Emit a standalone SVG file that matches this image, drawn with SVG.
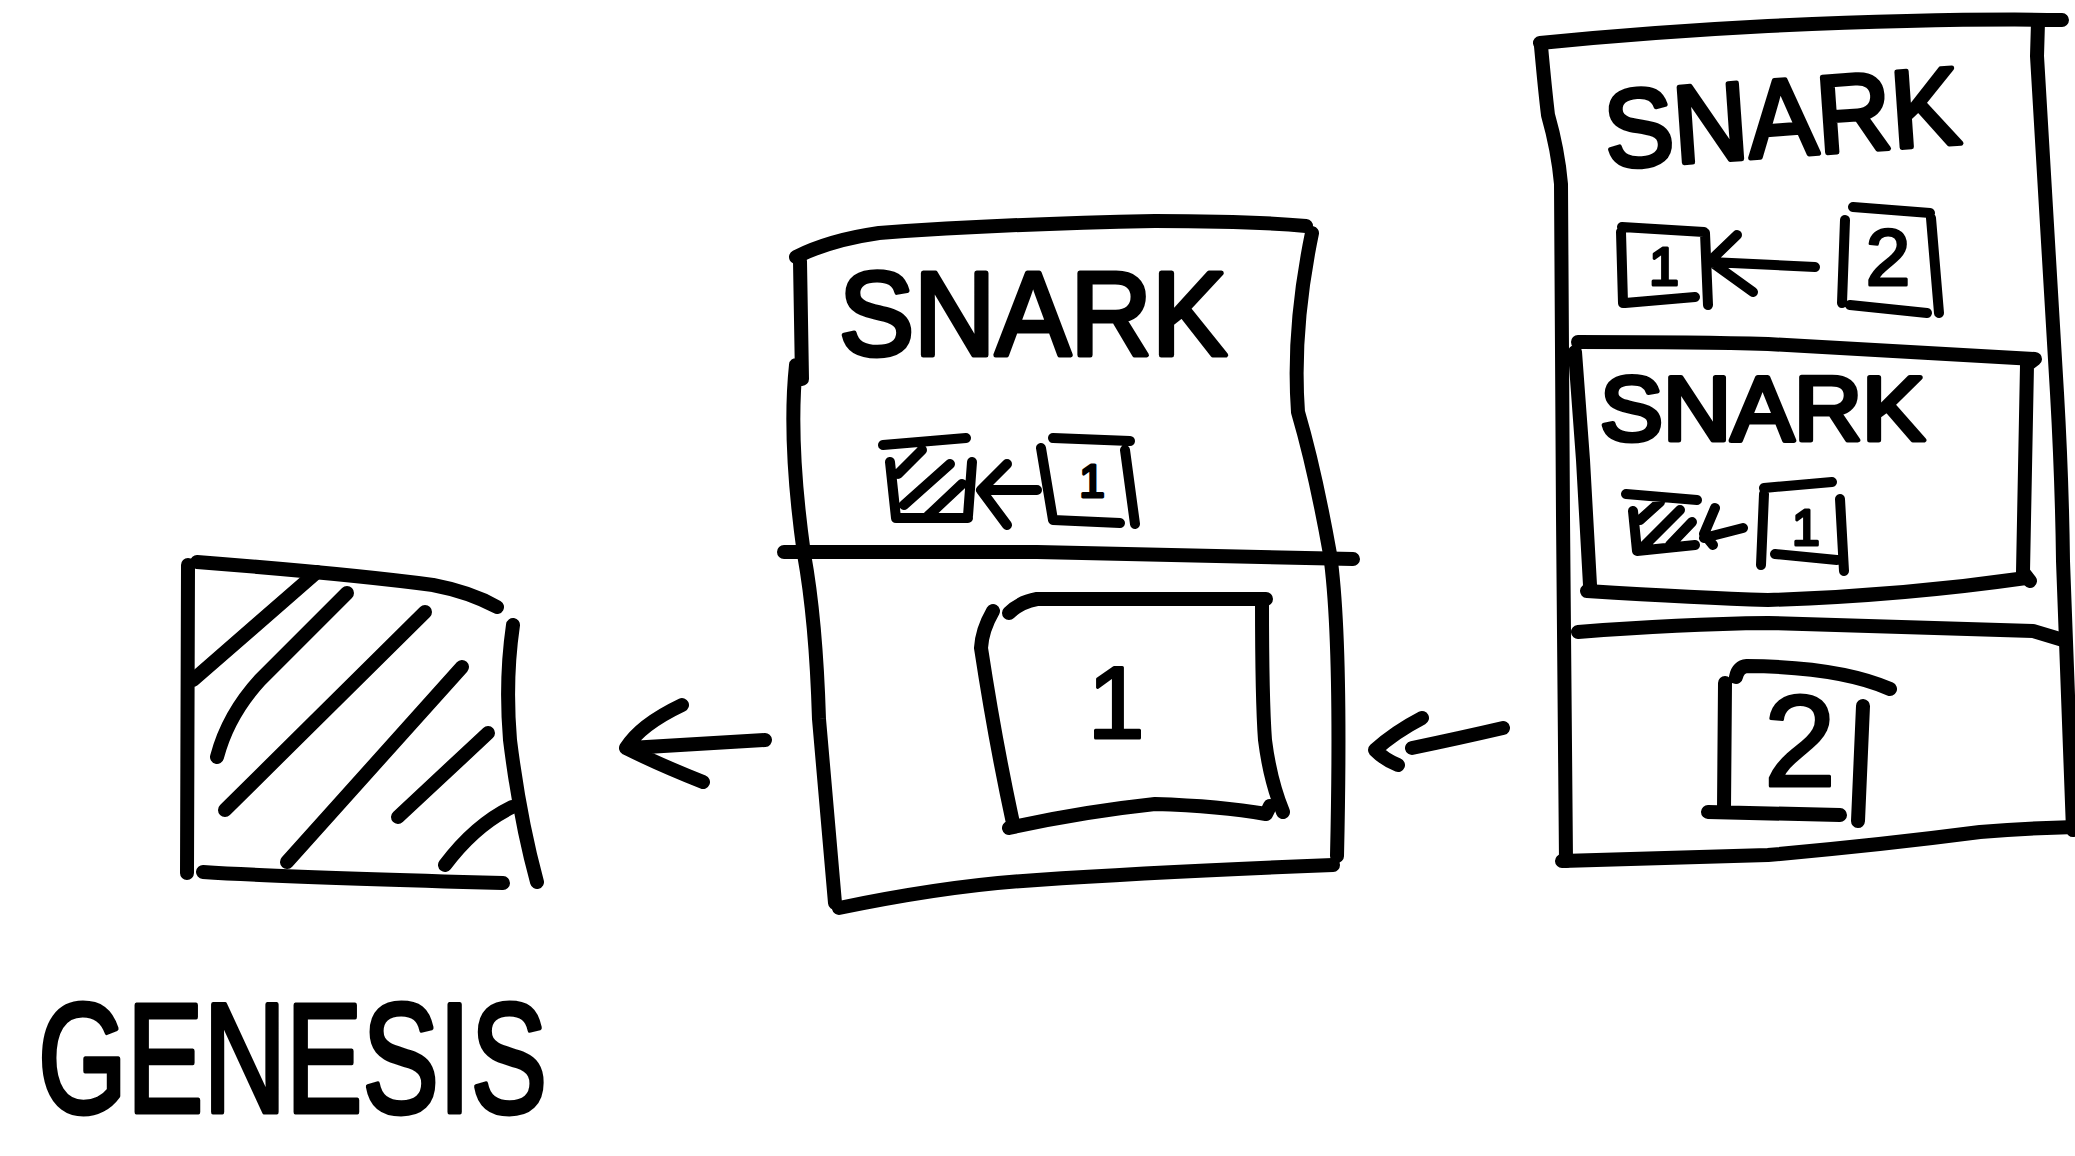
<svg xmlns="http://www.w3.org/2000/svg" width="2075" height="1156" viewBox="0 0 2075 1156">
<style>
.s{fill:none;stroke:#000;stroke-width:14;stroke-linecap:round;stroke-linejoin:round}
.t{fill:none;stroke:#000;stroke-width:10;stroke-linecap:round;stroke-linejoin:round}
.c{fill:none;stroke:#000;stroke-width:14;stroke-linecap:round;stroke-linejoin:round}
.h{font-family:"Liberation Sans",Arial,sans-serif;fill:#000;stroke:#000;stroke-width:5;stroke-linejoin:round}
.d{font-family:"Liberation Sans",Arial,sans-serif;fill:#000;stroke:#000;stroke-width:3;stroke-linejoin:round;text-anchor:middle}
</style>
<rect width="2075" height="1156" fill="#fff"/>
<g id="genesis">
<path class="s" d="M188,565 L187,873"/>
<path class="s" d="M197,562 Q350,574 433,585 Q470,592 497,607"/>
<path class="s" d="M513,625 Q505,680 510,740 Q520,820 537,882"/>
<path class="s" d="M203,872 Q280,877 503,883"/>
<path class="s" d="M193,680 L317,572"/>
<path class="s" d="M217,757 Q228,715 260,680 L347,593"/>
<path class="s" d="M225,810 L425,612"/>
<path class="s" d="M287,862 L462,667"/>
<path class="s" d="M398,817 L488,733"/>
<path class="s" d="M445,865 Q475,825 512,807"/>
<text class="h" x="38" y="1112" font-size="155" textLength="509" lengthAdjust="spacingAndGlyphs">GENESIS</text>
</g>
<g id="block1">
<path class="s" d="M796,257 Q830,240 879,233 Q1000,224 1155,221 Q1250,221 1306,226"/>
<path class="s" d="M1312,233 Q1292,330 1298,412 Q1315,470 1330,554 Q1342,640 1337,856"/>
<path class="s" d="M800,261 L802,379 M796,365 Q788,440 804,554 Q816,620 819,719 L835,903"/>
<path class="s" d="M839,908 Q950,885 1037,880 Q1155,872 1333,865"/>
<path class="s" d="M784,552 L1037,552 L1353,559"/>
<text class="h" x="839" y="355" font-size="118" textLength="388" lengthAdjust="spacingAndGlyphs">SNARK</text>
<path class="t" d="M883,445 L966,438 M890,462 L896,518 L968,518 M972,462 L968,516 M898,474 L922,450 M904,505 L950,464 M928,516 L962,484"/>
<path class="t" d="M1037,490 L981,490 M1007,464 L981,490 L1007,525"/>
<path class="t" d="M1041,448 L1053,520 M1053,438 L1130,441 M1053,520 L1120,523 M1125,450 L1135,524"/>
<text class="d" x="1092" y="497" font-size="46">1</text>
<path class="s" d="M993,611 Q982,630 981,648 Q995,740 1013,823"/>
<path class="s" d="M1009,613 Q1020,602 1037,599 L1266,599"/>
<path class="s" d="M1262,601 Q1262,700 1265,740 Q1270,780 1283,812"/>
<path class="s" d="M1009,828 Q1080,812 1155,804 Q1220,806 1266,814 L1270,806"/>
<text class="d" x="1116" y="738" font-size="102">1</text>
</g>
<g id="block2">
<path class="s" d="M1540,43 Q1650,32 1768,26 Q1950,18 2062,20"/>
<path class="s" d="M1541,46 Q1545,90 1548,115 Q1558,150 1561,184 L1563,517 L1566,861"/>
<path class="s" d="M2038,22 L2037,56 Q2042,140 2047,225 Q2052,310 2057,393 Q2062,480 2063,561 Q2068,700 2073,830"/>
<path class="s" d="M1562,861 Q1680,858 1768,855 Q1880,845 1980,832 Q2030,828 2075,827"/>
<text class="h" x="1607" y="168" font-size="110" textLength="356" lengthAdjust="spacingAndGlyphs" transform="rotate(-4 1607 168)">SNARK</text>
<path class="t" d="M1622,227 L1704,232 M1621,232 L1623,303 M1625,303 L1695,297 M1705,233 L1708,305"/>
<text class="d" x="1664" y="285" font-size="54">1</text>
<path class="t" d="M1815,267 L1710,262 M1737,235 L1710,261 L1753,292"/>
<path class="t" d="M1845,220 L1842,303 M1853,207 L1930,213 M1850,305 L1927,313 M1931,218 L1939,313"/>
<text class="d" x="1888" y="285" font-size="80">2</text>
<path class="s" d="M1578,342 Q1700,342 1768,344 Q1870,350 2035,359 L2027,365 L2023,572 L2030,581"/>
<path class="s" d="M1575,352 Q1580,420 1583,460 L1590,585"/>
<path class="s" d="M1587,591 Q1700,598 1768,600 Q1900,596 2026,578"/>
<text class="h" x="1600" y="440" font-size="90" textLength="325" lengthAdjust="spacingAndGlyphs">SNARK</text>
<path class="t" d="M1626,494 L1697,500 M1633,511 L1637,551 L1695,545 M1640,520 L1660,502 M1645,545 L1680,510 M1670,545 L1692,522"/>
<path class="t" d="M1743,528 L1704,538 M1715,508 L1704,534 L1713,545"/>
<path class="t" d="M1764,494 L1761,565 M1764,488 L1832,482 M1775,554 L1837,560 M1840,499 L1844,571"/>
<text class="d" x="1806" y="545" font-size="50">1</text>
<path class="s" d="M1578,632 Q1680,624 1768,623 Q1950,628 2033,631 L2063,640"/>
<path class="s" d="M1736,677 Q1738,667 1747,666 Q1840,667 1890,689 M1725,683 L1724,809 M1708,812 L1840,815 M1863,706 L1858,821"/>
<text class="d" x="1800" y="786" font-size="130">2</text>
</g>
<g id="connectors">
<path class="c" d="M765,740 Q700,744 630,748 M682,705 Q640,725 626,748 Q660,765 703,782"/>
<path class="c" d="M1503,728 Q1460,738 1412,748 M1422,718 Q1395,732 1375,750 Q1385,760 1398,765"/>
</g>
</svg>
